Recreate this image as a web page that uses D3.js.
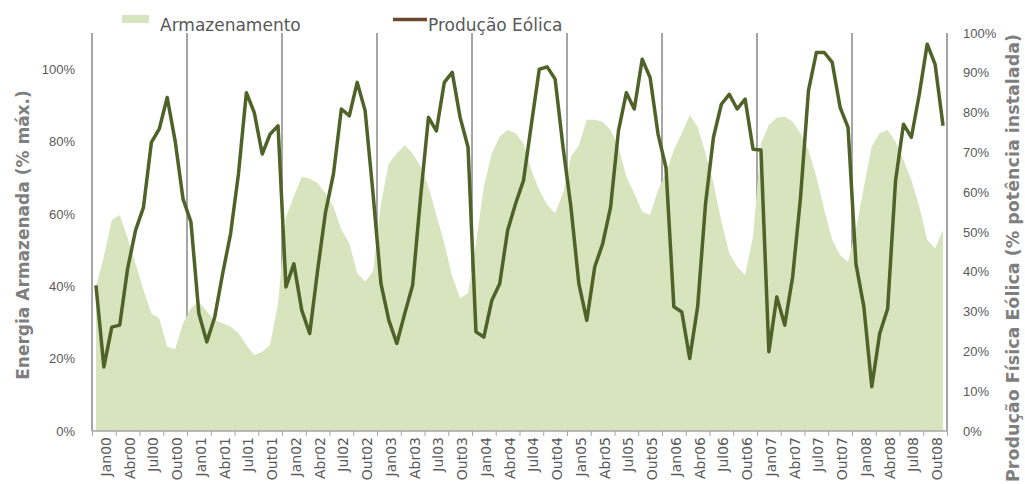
<!DOCTYPE html>
<html>
<head>
    <meta charset="utf-8">
    <style>
        body { margin: 0; background: #fff; }
        svg { display: block; font-family: "DejaVu Sans", sans-serif; }
        .tick text { fill: #595959; font-size: 13px; }
        .domain { stroke: none; }
    </style>
    <title>Armazenamento x Produção Eólica</title>
</head>
<body>
    <div id="chart"></div>
    <script src="https://cdn.jsdelivr.net/npm/d3@7"></script>
    <script>

        // categories: Jan00 .. Dez08
        var monthNames = ["Jan", "Fev", "Mar", "Abr", "Mai", "Jun", "Jul", "Ago", "Set", "Out", "Nov", "Dez"];
        var years = ["00", "01", "02", "03", "04", "05", "06", "07", "08"];

        // Energia armazenada (% máx.), eixo esquerdo
        var armazenamento = [
            39.9, 48.2, 58.3, 59.7, 53.3, 46.3, 39.0, 32.5, 31.1, 23.3, 22.6, 29.8,
            33.9, 35.7, 33.0, 30.7, 29.8, 28.8, 27.0, 23.8, 21.0, 21.9, 23.8, 35.3,
            59.2, 64.8, 70.3, 69.8, 68.5, 65.7, 62.0, 55.6, 51.9, 43.6, 41.3, 44.0,
            62.9, 74.0, 76.7, 79.0, 76.7, 73.1, 67.5, 59.7, 51.9, 42.7, 36.7, 38.1,
            51.9, 67.5, 76.7, 81.4, 83.2, 82.3, 79.5, 72.1, 66.6, 62.5, 60.2, 65.7,
            75.8, 79.0, 86.0, 86.0, 85.5, 83.2, 78.6, 70.3, 65.7, 60.6, 59.7, 66.6,
            71.2, 77.7, 82.3, 87.3, 84.1, 76.7, 68.5, 57.9, 49.1, 45.4, 43.1, 53.7,
            79.5, 84.6, 86.6, 86.9, 85.5, 82.3, 77.7, 70.3, 61.1, 52.8, 48.6, 46.8,
            55.6, 67.5, 78.6, 82.3, 83.2, 80.0, 74.9, 69.4, 62.0, 52.8, 50.5, 55.6
        ];

        // Produção física eólica (% potência instalada), eixo direito
        var producaoEolica = [
            36.6, 16.1, 26.1, 26.6, 40.8, 50.4, 56.2, 72.5, 75.9, 83.8, 72.9, 58.3,
            52.5, 29.5, 22.4, 28.6, 39.5, 49.5, 64.6, 85.0, 80.0, 69.6, 74.6, 76.7,
            36.2, 42.0, 30.3, 24.5, 40.4, 55.0, 64.6, 80.9, 79.2, 87.6, 80.5, 59.6,
            37.0, 27.8, 22.0, 29.5, 36.6, 58.7, 78.8, 75.4, 87.6, 90.1, 78.8, 71.3,
            24.9, 23.6, 32.8, 37.0, 50.4, 57.1, 62.9, 77.1, 90.9, 91.5, 88.4, 71.3,
            56.2, 37.0, 27.8, 41.2, 47.0, 56.2, 75.4, 85.0, 80.9, 93.4, 88.8, 74.6,
            66.2, 31.2, 29.9, 18.2, 31.2, 57.1, 73.8, 82.1, 84.6, 80.9, 83.4, 70.8,
            70.6, 19.9, 33.7, 26.6, 38.7, 58.7, 85.5, 95.1, 95.1, 92.6, 81.3, 76.3,
            42.0, 31.2, 11.1, 24.5, 30.7, 62.9, 77.1, 73.8, 84.6, 97.2, 92.1, 76.7
        ];

        var leftTicks = [0, 20, 40, 60, 80, 100];
        var rightTicks = [0, 10, 20, 30, 40, 50, 60, 70, 80, 90, 100];

        var categories = [];
        years.forEach(function (y) {
            monthNames.forEach(function (m) { categories.push(m + y); });
        });
        // one label every 3 months, Jan00 .. Out08
        var tickLabels = categories.filter(function (d, i) { return i % 3 == 0; });

        var width = 1025, height = 484;
        var plotLeft = 92, plotRight = 947, plotTop = 33, plotBottom = 431;

        var svg = d3.select("#chart").append("svg")
            .attr("width", width)
            .attr("height", height);

        var x = d3.scaleBand().domain(d3.range(categories.length)).range([plotLeft, plotRight]);
        var xLin = d3.scaleLinear().domain([0, categories.length]).range([plotLeft, plotRight]);
        var yL = d3.scaleLinear().domain([0, 110]).range([plotBottom, plotTop]);
        var yR = d3.scaleLinear().domain([0, 100]).range([plotBottom, plotTop]);

        function cx(i) { return x(i) + x.bandwidth() / 2; }

        // year separators
        svg.append("g").selectAll("line")
            .data(d3.range(0, categories.length + 1, 12))
            .enter().append("line")
            .attr("x1", function (d) { return xLin(d); })
            .attr("x2", function (d) { return xLin(d); })
            .attr("y1", plotTop)
            .attr("y2", plotBottom)
            .attr("stroke", "#a6a6a6")
            .attr("stroke-width", 2);

        // area
        var area = d3.area()
            .x(function (d, i) { return cx(i); })
            .y0(yL(0))
            .y1(function (d) { return yL(d); });

        svg.append("path")
            .datum(armazenamento)
            .attr("d", area)
            .attr("fill", "#d7e4bd");

        // bottom axis
        svg.append("line")
            .attr("x1", plotLeft).attr("x2", plotRight)
            .attr("y1", plotBottom).attr("y2", plotBottom)
            .attr("stroke", "#a6a6a6").attr("stroke-width", 1.5);

        svg.append("g")
            .attr("transform", "translate(0," + plotBottom + ")")
            .call(d3.axisBottom(xLin).tickValues(d3.range(0, categories.length + 1, 3)).tickFormat("").tickSize(5))
            .selectAll(".tick line").attr("stroke", "#a6a6a6");

        svg.append("g").selectAll("text")
            .data(tickLabels)
            .enter().append("text")
            .attr("transform", function (d, i) {
                return "translate(" + (xLin(i * 3 + 1.5) + 2) + "," + (plotBottom + 6) + ") rotate(-90)";
            })
            .attr("text-anchor", "end")
            .attr("dy", "0.35em")
            .attr("fill", "#595959")
            .style("font-size", "14px")
            .text(function (d) { return d; });

        // line
        var line = d3.line()
            .x(function (d, i) { return cx(i); })
            .y(function (d) { return yR(d); });

        svg.append("path")
            .datum(producaoEolica)
            .attr("d", line)
            .attr("fill", "none")
            .attr("stroke", "#4f6228")
            .attr("stroke-width", 3.5)
            .attr("stroke-linejoin", "round");

        // left / right axes
        svg.append("g")
            .attr("transform", "translate(" + plotLeft + ",0)")
            .call(d3.axisLeft(yL).tickValues(leftTicks).tickFormat(function (d) { return d + "%"; }).tickSize(0).tickPadding(17));

        svg.append("g")
            .attr("transform", "translate(" + plotRight + ",0)")
            .call(d3.axisRight(yR).tickValues(rightTicks).tickFormat(function (d) { return d + "%"; }).tickSize(0).tickPadding(16));

        // axis titles
        function fitText(sel, target) {
            var size = parseFloat(sel.style("font-size"));
            var len = sel.node().getComputedTextLength();
            sel.style("font-size", (size * target / len) + "px");
        }

        var tl = svg.append("text")
            .attr("transform", "translate(23,235) rotate(-90)")
            .attr("text-anchor", "middle")
            .attr("dy", "0.35em")
            .attr("fill", "#7f7f7f")
            .style("font-weight", "bold")
            .style("font-size", "17px")
            .text("Energia Armazenada (% máx.)");
        fitText(tl, 290);

        var tr = svg.append("text")
            .attr("transform", "translate(1013,258) rotate(-90)")
            .attr("text-anchor", "middle")
            .attr("dy", "0.35em")
            .attr("fill", "#7f7f7f")
            .style("font-weight", "bold")
            .style("font-size", "17px")
            .text("Produção Física Eólica (% potência instalada)");
        fitText(tr, 448);

        // legend
        svg.append("rect")
            .attr("x", 122).attr("y", 15)
            .attr("width", 27).attr("height", 8)
            .attr("fill", "#d7e4bd");
        svg.append("text")
            .attr("x", 160).attr("y", 31)
            .attr("fill", "#595959")
            .style("font-size", "17px")
            .text("Armazenamento");

        svg.append("line")
            .attr("x1", 393).attr("x2", 427)
            .attr("y1", 19.5).attr("y2", 19.5)
            .attr("stroke", "#6b4a2f")
            .attr("stroke-width", 3.5);
        svg.append("text")
            .attr("x", 428).attr("y", 31)
            .attr("fill", "#595959")
            .style("font-size", "17px")
            .text("Produção Eólica");

    </script>
</body>
</html>
